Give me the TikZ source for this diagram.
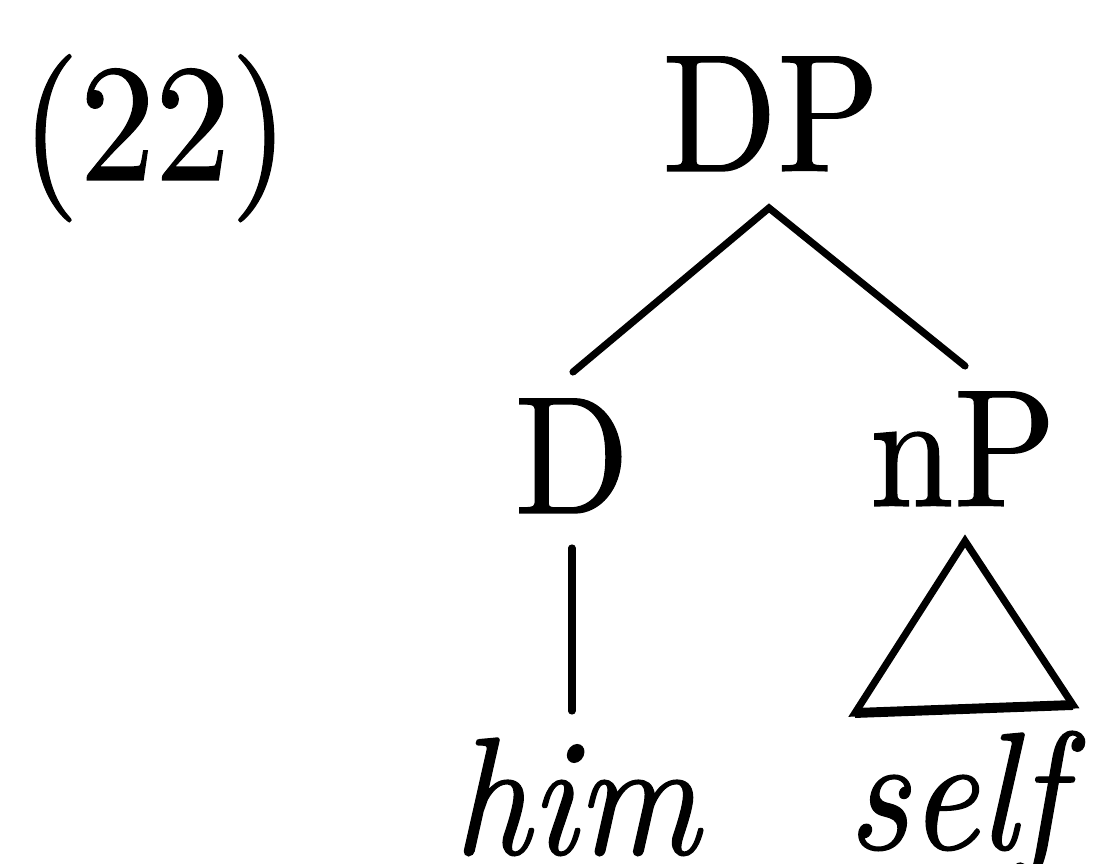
\documentclass[tikz,border=0pt]{standalone}
\usepackage{fontspec}
% slightly heavier Latin Modern for the labels
\newfontfamily\treefont{lmroman10-regular.otf}[FakeBold=0.8,
  ItalicFont=lmroman10-italic.otf, ItalicFeatures={FakeBold=0.8}]
\begin{document}
\begin{tikzpicture}[x=0.0909pt,y=-0.0909pt,
  lbl/.style={inner sep=0pt,anchor=base,font=\treefont\fontsize{15.2}{18}\selectfont},
  branch/.style={line width=0.65pt,line cap=round,line join=miter}]
\newcommand\narrow[1]{\scalebox{0.9}[1]{#1}}
\useasboundingbox (0,0) rectangle (1096,864);
% example number
\node[lbl,anchor=base west] (num) at (19,180) {\narrow{(22)}};
% tree labels
\node[lbl] (DP) at (771,171) {\narrow{DP}};
\node[lbl] (D) at (572,513) {\narrow{D}};
\node[lbl] (nP) at (963,506) {\narrow{nP}};
\node[lbl] (him) at (578,854) {\narrow{\textit{him}}};
\node[lbl] (self) at (966,849) {\narrow{\textit{self}}};
% branch end points
\coordinate (top) at (769,208);
\coordinate (dl) at (573,372);
\coordinate (dr) at (965,366);
\coordinate (vt) at (572,548);
\coordinate (vb) at (572,711);
\coordinate (ta) at (965,541);
\coordinate (tl) at (855,713);
\coordinate (tr) at (1073,705);
% branches
\draw[branch] (dl) -- (top) -- (dr);
\draw[branch] (vt) -- (vb);
\draw[branch] (ta) -- (tr) -- (tl) -- cycle;
\draw[line width=0.9pt] (tl) -- (tr);
\end{tikzpicture}
\end{document}
